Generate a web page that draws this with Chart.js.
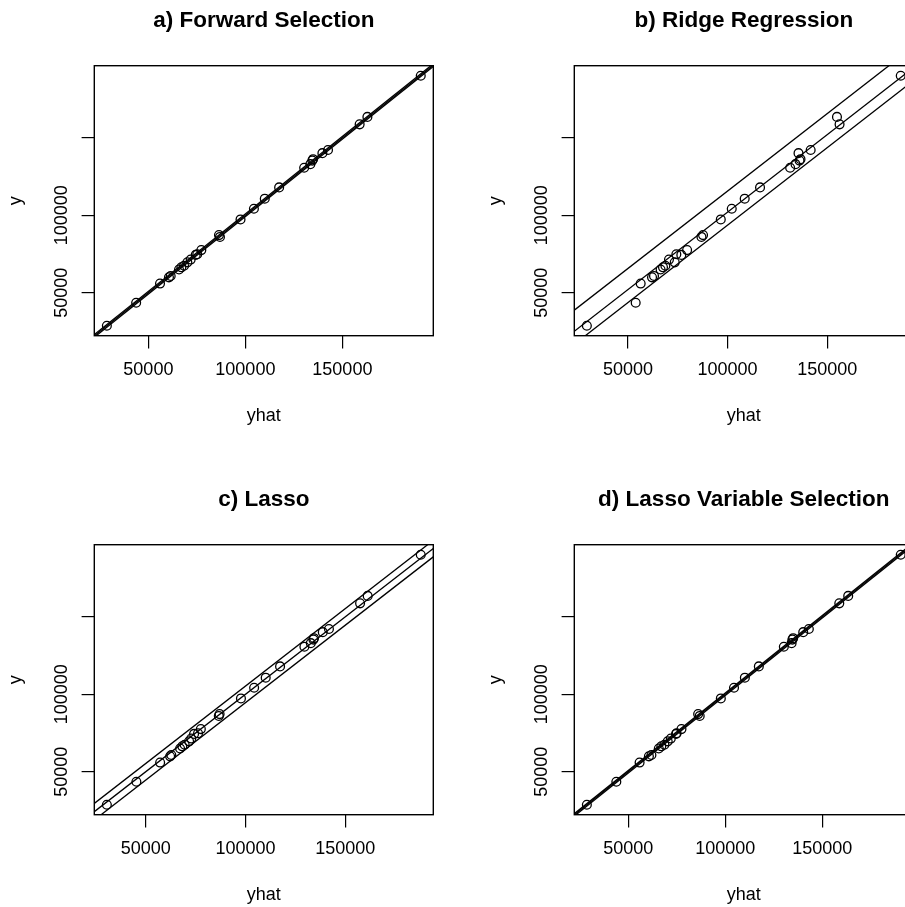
<!DOCTYPE html>
<html>
<head>
<meta charset="utf-8">
<title>Predicted vs actual</title>
<script src="https://cdn.jsdelivr.net/npm/chart.js@4.4.1/dist/chart.umd.min.js"></script>
<style>
  html, body { margin: 0; padding: 0; background: #fff; width: 905px; height: 907px; overflow: hidden; }
  .panel { position: absolute; width: 480px; height: 479px; }
</style>
</head>
<body>
<div class="panel" style="left:0;top:0"><canvas id="pa" width="480" height="479"></canvas></div>
<div class="panel" style="left:480px;top:0"><canvas id="pb" width="480" height="479"></canvas></div>
<div class="panel" style="left:0;top:479.3px"><canvas id="pc" width="480" height="479"></canvas></div>
<div class="panel" style="left:480px;top:479.3px"><canvas id="pd" width="480" height="479"></canvas></div>
<script>
// actual y (same in all four panels)
const yActual = [28700, 43500, 55900, 59900, 60800, 65000, 66400, 67400, 69600, 71400,
                 74400, 74800, 77500, 86000, 87200, 97300, 104200, 110700, 118000, 130700,
                 133000, 135300, 136200, 140100, 142100, 158700, 163500, 190100];

// fitted values (yhat) for each model
const yhatForward = [28600, 43700, 56000, 60600, 61500, 65800, 67000, 68400, 70100, 71800,
                     74400, 75200, 77300, 86900, 86400, 97500, 104400, 110000, 117400, 130300,
                     133500, 134500, 134900, 139700, 142600, 158900, 162900, 190400];
const yhatRidge = [29400, 53900, 56400, 62100, 63100, 66400, 67600, 68800, 73500, 70600,
                   76800, 74300, 79700, 86900, 87700, 96600, 102100, 108600, 116300, 131400,
                   134100, 136100, 136600, 135600, 141700, 156200, 154900, 186900];
const yhatLasso = [30500, 45300, 57200, 62200, 62800, 67200, 68300, 69500, 71700, 72800,
                   74200, 76200, 77600, 86600, 87000, 97700, 104300, 110100, 117300, 129500,
                   132700, 134000, 134300, 138700, 141800, 157400, 161200, 187800];
const yhatLassoVS = [28600, 43800, 55800, 60600, 61900, 65700, 67000, 68600, 70300, 71900,
                     74600, 74900, 77400, 86800, 86000, 97700, 104500, 110100, 117300, 130200,
                     134200, 134600, 135000, 140200, 143100, 158800, 163400, 190500];

// reference lines y = yhat + offset
const fwdLineOffsets = [-900, 0, 900];
const ridgeLineOffsets = [15600, 2000, -6400];
const lassoLineOffsets = [5300, 0, -5400];
const lassoVSLineOffsets = [-800, 0, 800];

const xTickVals = [50000, 100000, 150000];
const xTickLabels = ['50000', '100000', '150000'];
const yTickVals = [50000, 100000, 150000];
const yTickLabels = ['50000', '100000', ''];

const FONT = 'Liberation Sans, Arial, Helvetica, sans-serif';
const W = 480, H = 479;
const BOX = { left: 94.3, top: 65.7, right: 433.3, bottom: 335.7 };
const TITLE_SIZE = 22.5;

// R style axis range: data range plus 4% on each side
const padRange = (vals) => {
    const lo = Math.min(...vals), hi = Math.max(...vals);
    const d = (hi - lo) * 0.04;
    return [lo - d, hi + d];
};

// full box around the plot area
const boxFrame = {
    id: 'boxFrame',
    afterDraw(chart) {
        const { ctx, chartArea: a } = chart;
        ctx.save();
        ctx.strokeStyle = '#000';
        ctx.lineWidth = 1.4;
        ctx.strokeRect(a.left, a.top, a.right - a.left, a.bottom - a.top);
        ctx.restore();
    }
};

const renderPanel = (ctxId, title, yhat, offsets) => {
    const ctx = document.getElementById(ctxId);
    const [xmin, xmax] = padRange(yhat);
    const [ymin, ymax] = padRange(yActual);

    const lineSets = offsets.map(c => ({
        data: [{ x: xmin, y: xmin + c }, { x: xmax, y: xmax + c }],
        showLine: true,
        borderColor: '#000',
        borderWidth: 1.3,
        pointRadius: 0,
        fill: false
    }));

    const titleTop = 21 - TITLE_SIZE * 0.6;

    return new Chart(ctx, {
        type: 'scatter',
        data: {
            datasets: [{
                data: yhat.map((v, i) => ({ x: v, y: yActual[i] })),
                pointStyle: 'circle',
                pointRadius: 4.4,
                borderWidth: 1.3,
                borderColor: '#000',
                backgroundColor: 'rgba(0,0,0,0)'
            }, ...lineSets]
        },
        options: {
            responsive: false,
            animation: false,
            layout: { padding: { left: 0, top: 0, right: W - BOX.right, bottom: 0 } },
            plugins: {
                legend: { display: false },
                tooltip: { enabled: false },
                title: {
                    display: true,
                    text: title,
                    fullSize: false,
                    color: '#000',
                    font: { family: FONT, size: TITLE_SIZE, weight: 'bold' },
                    padding: { top: titleTop, bottom: BOX.top - titleTop - TITLE_SIZE * 1.2 }
                }
            },
            scales: {
                x: {
                    type: 'linear',
                    min: xmin,
                    max: xmax,
                    afterBuildTicks: s => { s.ticks = xTickVals.map(v => ({ value: v })); },
                    afterFit: s => { s.height = H - BOX.bottom; },
                    grid: { drawOnChartArea: false, drawTicks: true, tickLength: 12.7, color: '#000', lineWidth: 1.2 },
                    border: { display: false },
                    ticks: {
                        autoSkip: false,
                        maxRotation: 0,
                        padding: 11.3,
                        color: '#000',
                        font: { family: FONT, size: 18 },
                        callback: (v, i) => xTickLabels[i]
                    },
                    title: {
                        display: true,
                        text: 'yhat',
                        color: '#000',
                        font: { family: FONT, size: 18 },
                        padding: { top: 0, bottom: 52.6 }
                    }
                },
                y: {
                    type: 'linear',
                    min: ymin,
                    max: ymax,
                    afterBuildTicks: s => { s.ticks = yTickVals.map(v => ({ value: v })); },
                    afterFit: s => { s.width = BOX.left; },
                    grid: { drawOnChartArea: false, drawTicks: true, tickLength: 12.7, color: '#000', lineWidth: 1.2 },
                    border: { display: false },
                    ticks: {
                        autoSkip: false,
                        minRotation: 90,
                        maxRotation: 90,
                        crossAlign: 'center',
                        padding: -10.1,
                        color: '#000',
                        font: { family: FONT, size: 18 },
                        callback: (v, i) => yTickLabels[i]
                    },
                    title: {
                        display: true,
                        text: 'y',
                        color: '#000',
                        font: { family: FONT, size: 18 },
                        padding: { top: 5.2, bottom: 0 }
                    }
                }
            }
        },
        plugins: [boxFrame]
    });
};

renderPanel('pa', 'a) Forward Selection', yhatForward, fwdLineOffsets);
renderPanel('pb', 'b) Ridge Regression', yhatRidge, ridgeLineOffsets);
renderPanel('pc', 'c) Lasso', yhatLasso, lassoLineOffsets);
renderPanel('pd', 'd) Lasso Variable Selection', yhatLassoVS, lassoVSLineOffsets);
</script>
</body>
</html>
